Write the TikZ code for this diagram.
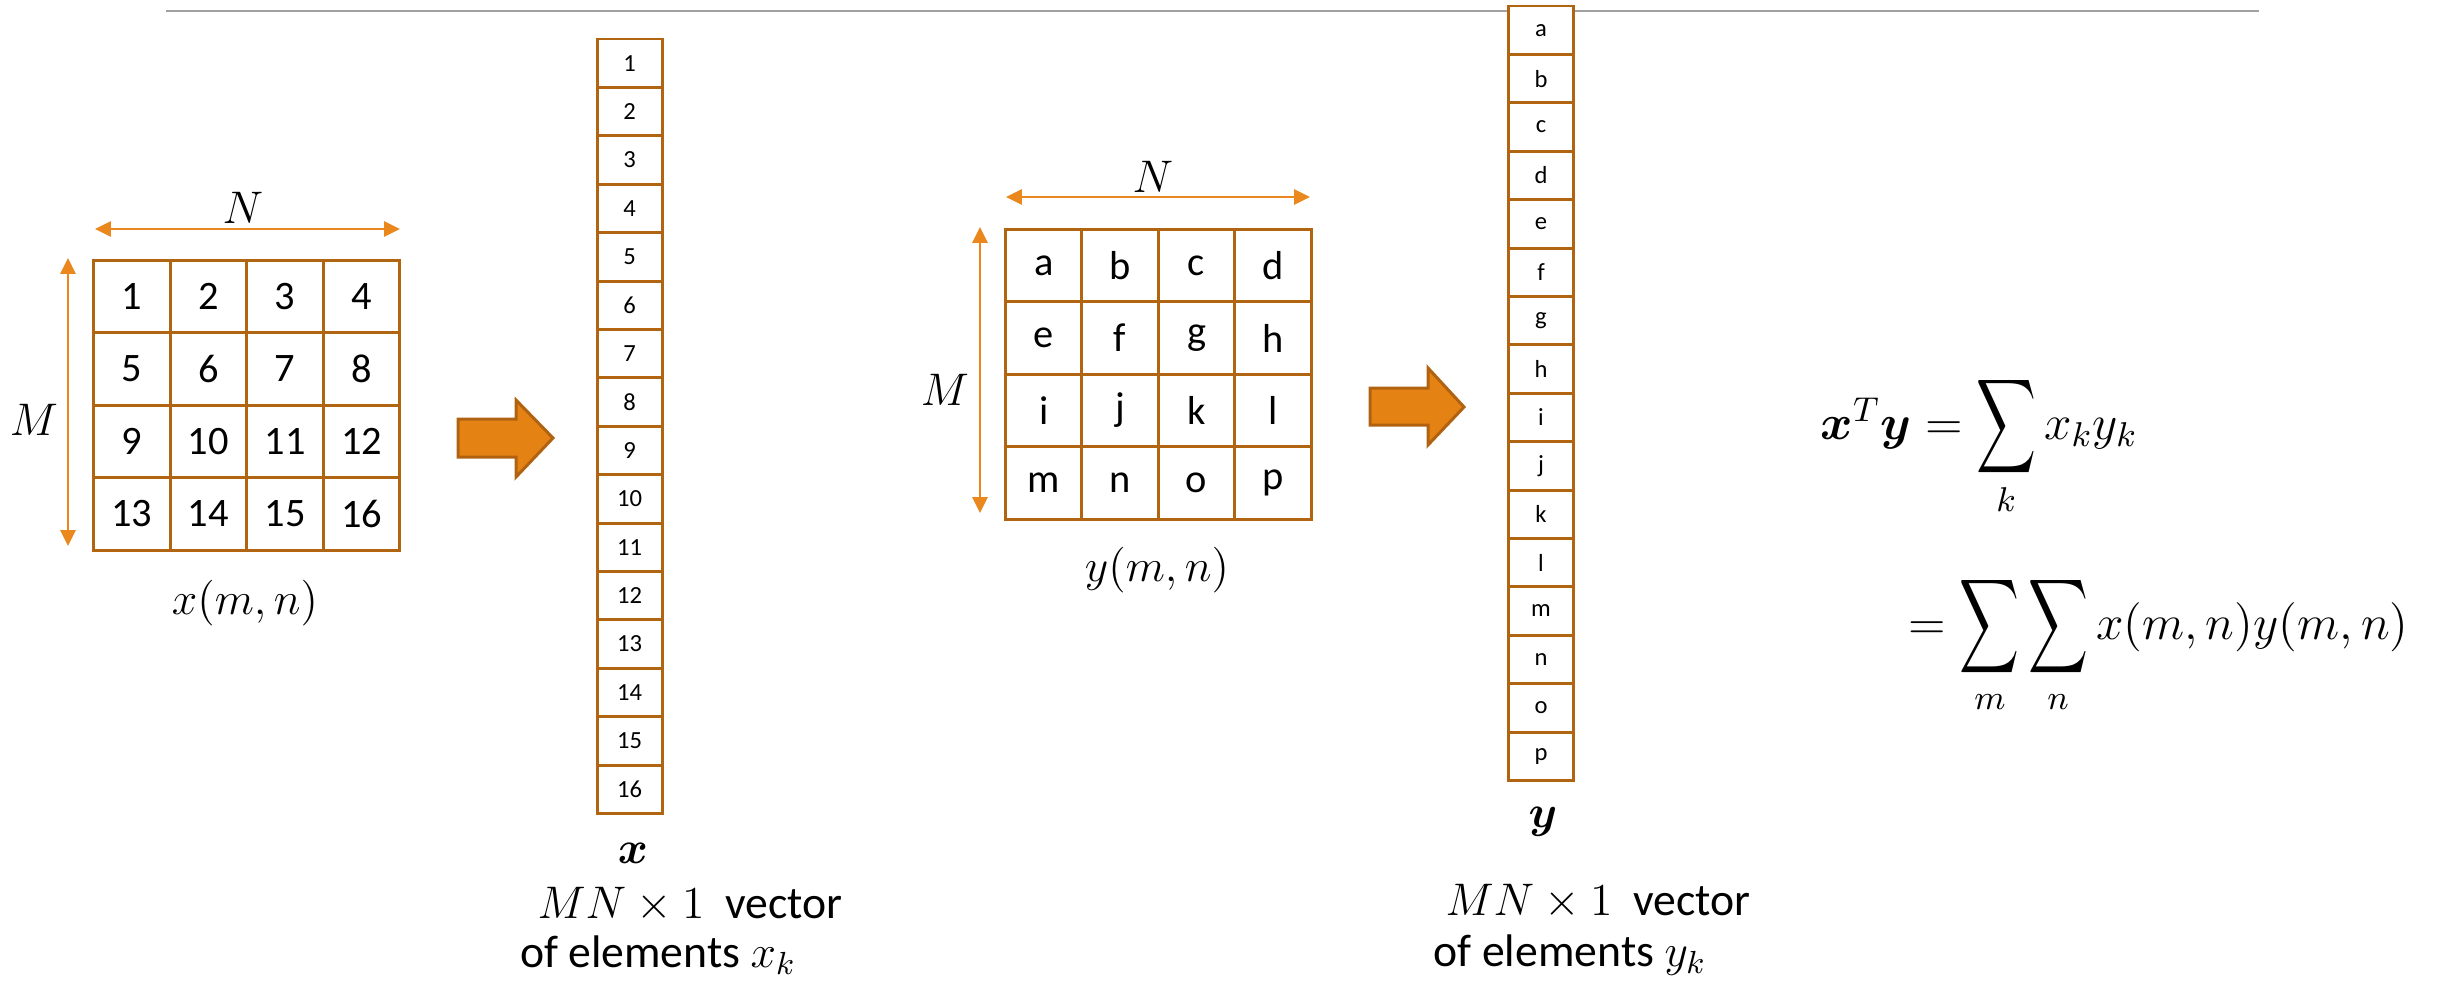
\RequirePackage{fix-cm}
\documentclass[tikz,border=0pt]{standalone}
\usepackage{amsmath,bm}
\usepackage{graphicx}
\usepackage[no-math]{fontspec}
\setmainfont{Carlito}
\usetikzlibrary{arrows.meta}

\definecolor{cellbrown}{RGB}{178,101,16}
\definecolor{dimorange}{RGB}{234,136,30}
\definecolor{blockfill}{RGB}{228,130,20}
\definecolor{blockedge}{RGB}{176,98,16}
\definecolor{rulegray}{RGB}{160,160,160}

\newcommand{\bigsum}{\mathop{\vcenter{\hbox{\scalebox{0.82}[1.3]{$\displaystyle\sum$}}}}\limits}

\tikzset{
  gridcell/.style={draw=cellbrown, line width=0.85pt, fill=white, inner sep=0pt, outer sep=0pt,
    minimum width=7.66mm, minimum height=7.25mm, font=\fontsize{11.5}{13}\selectfont},
  veccell/.style={draw=cellbrown, line width=0.85pt, fill=white, inner sep=0pt, outer sep=0pt,
    minimum width=6.5mm, minimum height=4.84mm, font=\fontsize{7}{8}\selectfont},
  dimarrow/.style={draw=dimorange, line width=0.6pt,
    {Triangle[width=4.3pt,length=4.5pt]}-{Triangle[width=4.3pt,length=4.5pt]}},
  blockarrow/.style={fill=blockfill, draw=blockedge, line width=0.85pt, line join=miter},
  lbl/.style={inner sep=0pt, font=\fontsize{13}{15.6}\selectfont},
  eqn/.style={inner sep=0pt, anchor=base west, font=\fontsize{14}{17}\selectfont},
}

\begin{document}
\begin{tikzpicture}[x=0.1mm, y=-0.1mm]
    \useasboundingbox (0,0) rectangle (2438,986);

    % top rule
    \draw[rulegray, line width=0.6pt] (166,11) -- (2259,11);

    % matrix x(m,n)
    \foreach \v [count=\i from 0] in {1,...,16} {
        \pgfmathtruncatemacro{\r}{\i/4}
        \pgfmathtruncatemacro{\c}{mod(\i,4)}
        \node[gridcell] (xm\v) at ({131.8+76.6*\c},{296.3+72.5*\r}) {\v};
    }
    \coordinate (xNa) at (95,229);
    \coordinate (xNb) at (400,229);
    \coordinate (xMa) at (68,258);
    \coordinate (xMb) at (68,546);
    \draw[dimarrow] (xNa) -- (xNb);
    \draw[dimarrow] (xMa) -- (xMb);
    \node[lbl] (xN) at (243,208) {$N$};
    \node[lbl] (xM) at (34,420) {$M$};
    \node[lbl] (xlab) at (245,603) {$x(m,n)$};

    \draw[blockarrow] (458,419) -- (516,419) -- (516,400) -- (553,438)
        -- (516,477) -- (516,457) -- (458,457) -- cycle;

    % vector x
    \foreach \v [count=\i from 0] in {1,...,16}
        \node[veccell] (xv\v) at (629.5,{63.2+48.4*\i}) {\v};
    \node[lbl] (xbold) at (633,853) {$\bm{x}$};
    \node[lbl] (xsize) at (690,905) {$MN\times1$\ \ vector};
    \node[lbl] (xelem) at (658,955) {of elements $x_k$};

    % matrix y(m,n)
    \foreach \v [count=\i from 0] in {a,...,p} {
        \pgfmathtruncatemacro{\r}{\i/4}
        \pgfmathtruncatemacro{\c}{mod(\i,4)}
        \node[gridcell] (ym\v) at ({1043.7+76.4*\c},{265.5+72.5*\r}) {\v};
    }
    \coordinate (yNa) at (1006,197);
    \coordinate (yNb) at (1310,197);
    \coordinate (yMa) at (980,227);
    \coordinate (yMb) at (980,513);
    \draw[dimarrow] (yNa) -- (yNb);
    \draw[dimarrow] (yMa) -- (yMb);
    \node[lbl] (yN) at (1153,177) {$N$};
    \node[lbl] (yM) at (945,390) {$M$};
    \node[lbl] (ylab) at (1157,570) {$y(m,n)$};

    \draw[blockarrow] (1370,388) -- (1428,388) -- (1428,368) -- (1464,407)
        -- (1428,445) -- (1428,425) -- (1370,425) -- cycle;

    % vector y
    \foreach \v [count=\i from 0] in {a,...,p}
        \node[veccell] (yv\v) at (1541,{30.2+48.4*\i}) {\v};
    \node[lbl] (ybold) at (1543,822) {$\bm{y}$};
    \node[lbl] (ysize) at (1598,902) {$MN\times1$\ \ vector};
    \node[lbl] (yelem) at (1570,955) {of elements $y_k$};

    % inner product
    \node[eqn] (eqa) at (1820,439) {$\bm{x}^T\bm{y}=\bigsum_{k}x_k y_k$};
    \node[eqn] (eqb) at (1908,639) {$=\bigsum_{m}\bigsum_{n}x(m,n)y(m,n)$};
\end{tikzpicture}
\end{document}
